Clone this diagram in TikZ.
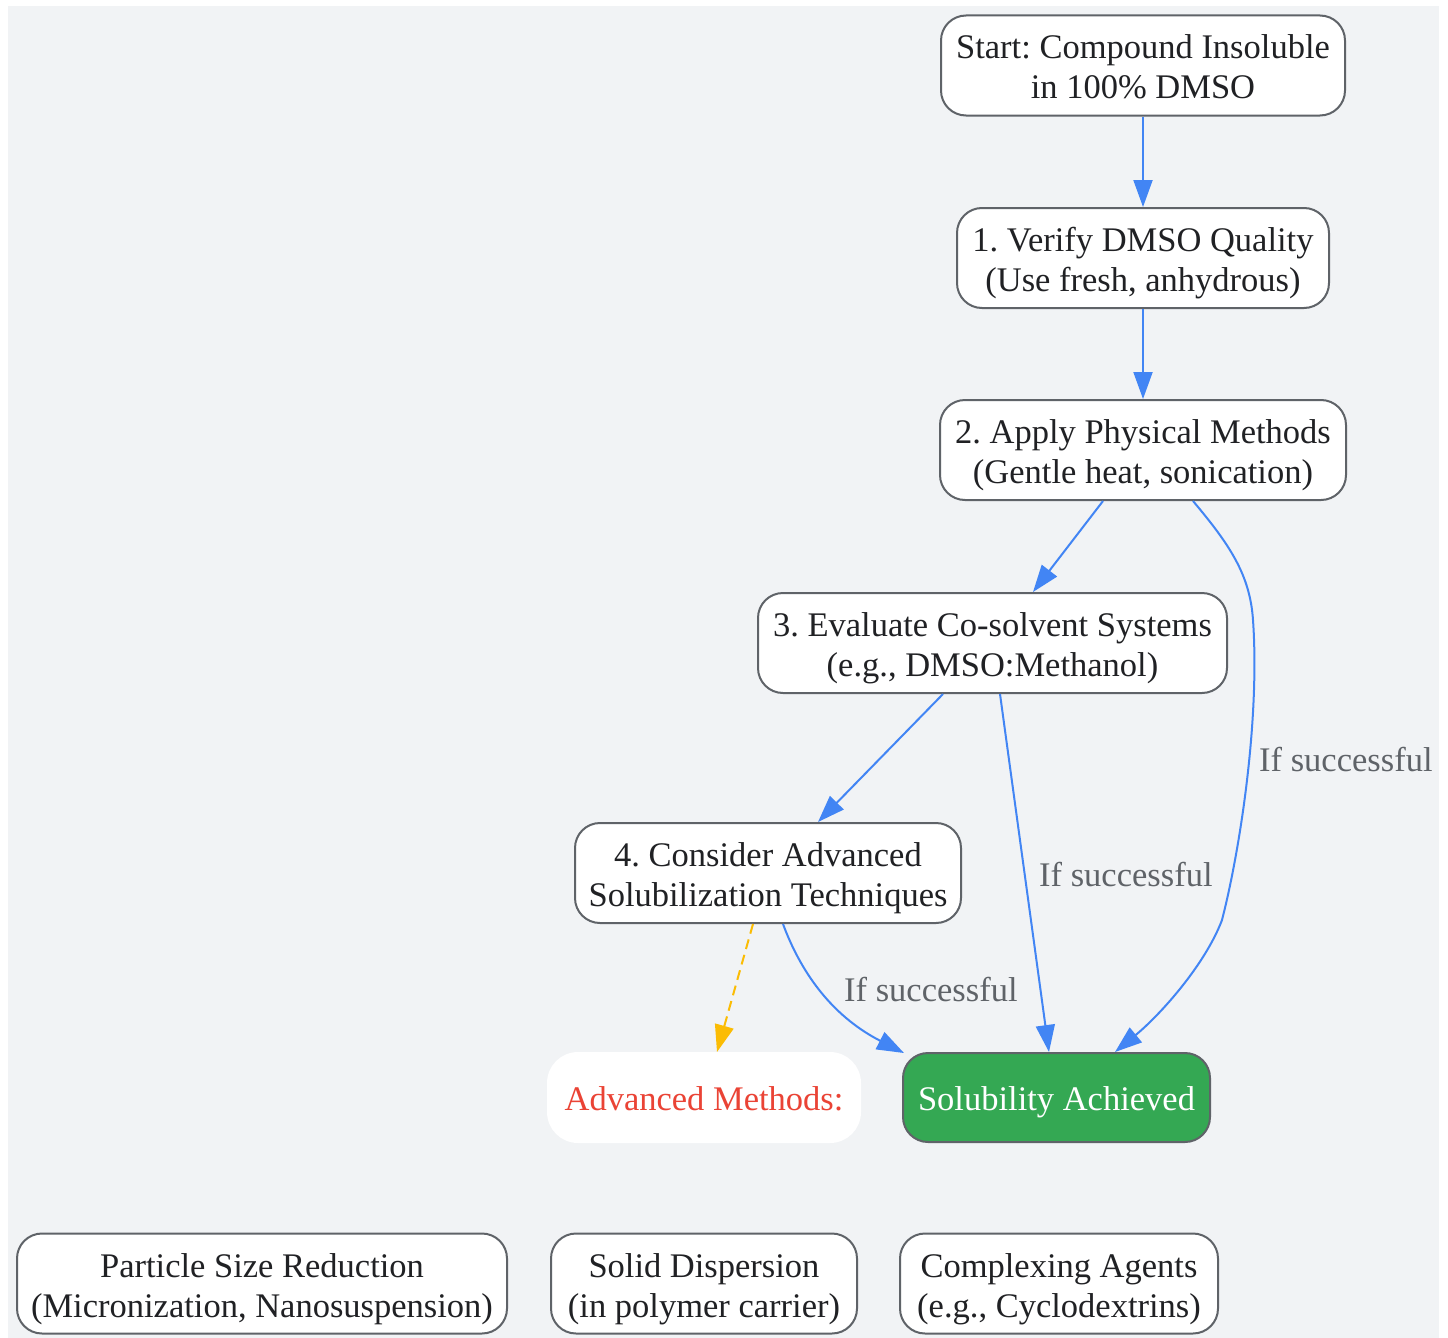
\documentclass[tikz,border=0pt]{standalone}
\usepackage{fontspec}
\setmainfont{Liberation Serif}
\usetikzlibrary{arrows.meta}
\definecolor{bg}{HTML}{F1F3F5}
\definecolor{bord}{HTML}{5F6368}
\definecolor{blueE}{HTML}{4285F4}
\definecolor{yel}{HTML}{FBBC04}
\definecolor{grn}{HTML}{34A853}
\definecolor{redT}{HTML}{EA4335}
\definecolor{txt}{HTML}{202124}
\definecolor{lbl}{HTML}{5F6368}
\frenchspacing
\begin{document}
\begin{tikzpicture}[x=1pt,y=-1pt,
  box/.style={draw=bord, line width=2pt, rounded corners=25pt, fill=white, align=center,
    font=\fontsize{34.5}{40}\selectfont, text=txt, minimum height=100pt, inner sep=0pt,
    text height=69pt, text depth=2pt},
  oneline/.style={text height=27pt, text depth=2pt, minimum height=89pt},
  goodbox/.style={box, oneline, fill=grn, text=white},
  notebox/.style={box, oneline, draw=white, text=redT, rounded corners=30pt},
  edge/.style={draw=blueE, line width=2pt, -{Triangle[length=27pt,width=19pt]}},
  dashedge/.style={draw=yel, line width=2pt, dash pattern=on 10pt off 6pt, -{Triangle[length=27pt,width=19pt]}},
  elabel/.style={font=\fontsize{34.5}{40}\selectfont, text=lbl, inner sep=0pt}]
\useasboundingbox (0,0) rectangle (1448,1338);
\fill[bg] (8,6) rectangle (1439,1338);

\node[box, minimum width=404pt] (start) at (1143,65.5) {Start: Compound Insoluble\\in 100\% DMSO};
\node[box, minimum width=372pt] (verify) at (1143,258) {1. Verify DMSO Quality\\(Use fresh, anhydrous)};
\node[box, minimum width=406pt] (apply) at (1143,450) {2. Apply Physical Methods\\(Gentle heat, sonication)};
\node[box, minimum width=469pt] (eval) at (992.5,643) {3. Evaluate Co-solvent Systems\\(e.g., DMSO:Methanol)};
\node[box, minimum width=386pt] (consider) at (768,873) {4. Consider Advanced\\Solubilization Techniques};
\node[notebox, minimum width=312pt] (adv) at (704,1097.5) {Advanced Methods:};
\node[goodbox, minimum width=307pt] (sol) at (1056.5,1097.5) {Solubility Achieved};
\node[box, minimum width=490pt] (psr) at (262,1283.5) {Particle Size Reduction\\(Micronization, Nanosuspension)};
\node[box, minimum width=306pt] (sd) at (704,1283.5) {Solid Dispersion\\(in polymer carrier)};
\node[box, minimum width=318pt] (ca) at (1059,1283.5) {Complexing Agents\\(e.g., Cyclodextrins)};

\draw[edge] (start) -- (verify);
\draw[edge] (verify) -- (apply);
\draw[edge] ([xshift=-40pt]apply.south) -- ([xshift=40.5pt]eval.north);
\draw[edge] ([xshift=50pt]apply.south) .. controls (1230,545) and (1250,575) .. (1253,620)
   .. controls (1260,720) and (1240,850) .. (1222,920)
   .. controls (1205,965) and (1160,1015) .. ([xshift=58.5pt]sol.north);
\draw[edge] ([xshift=-49.5pt]eval.south) -- ([xshift=50pt]consider.north);
\draw[edge] ([xshift=7.5pt]eval.south) -- ([xshift=-7.5pt]sol.north);
\draw[edge] ([xshift=15pt]consider.south) .. controls (800,970) and (830,1015) .. ([xshift=2pt,yshift=-1pt]sol.north west);
\draw[dashedge] ([xshift=-15pt]consider.south) -- ([xshift=13pt]adv.north);

\node[elabel, anchor=west] (l1) at (1259,760) {If successful};
\node[elabel, anchor=west] (l2) at (1039,875) {If successful};
\node[elabel, anchor=west] (l3) at (844,990) {If successful};
\end{tikzpicture}
\end{document}
